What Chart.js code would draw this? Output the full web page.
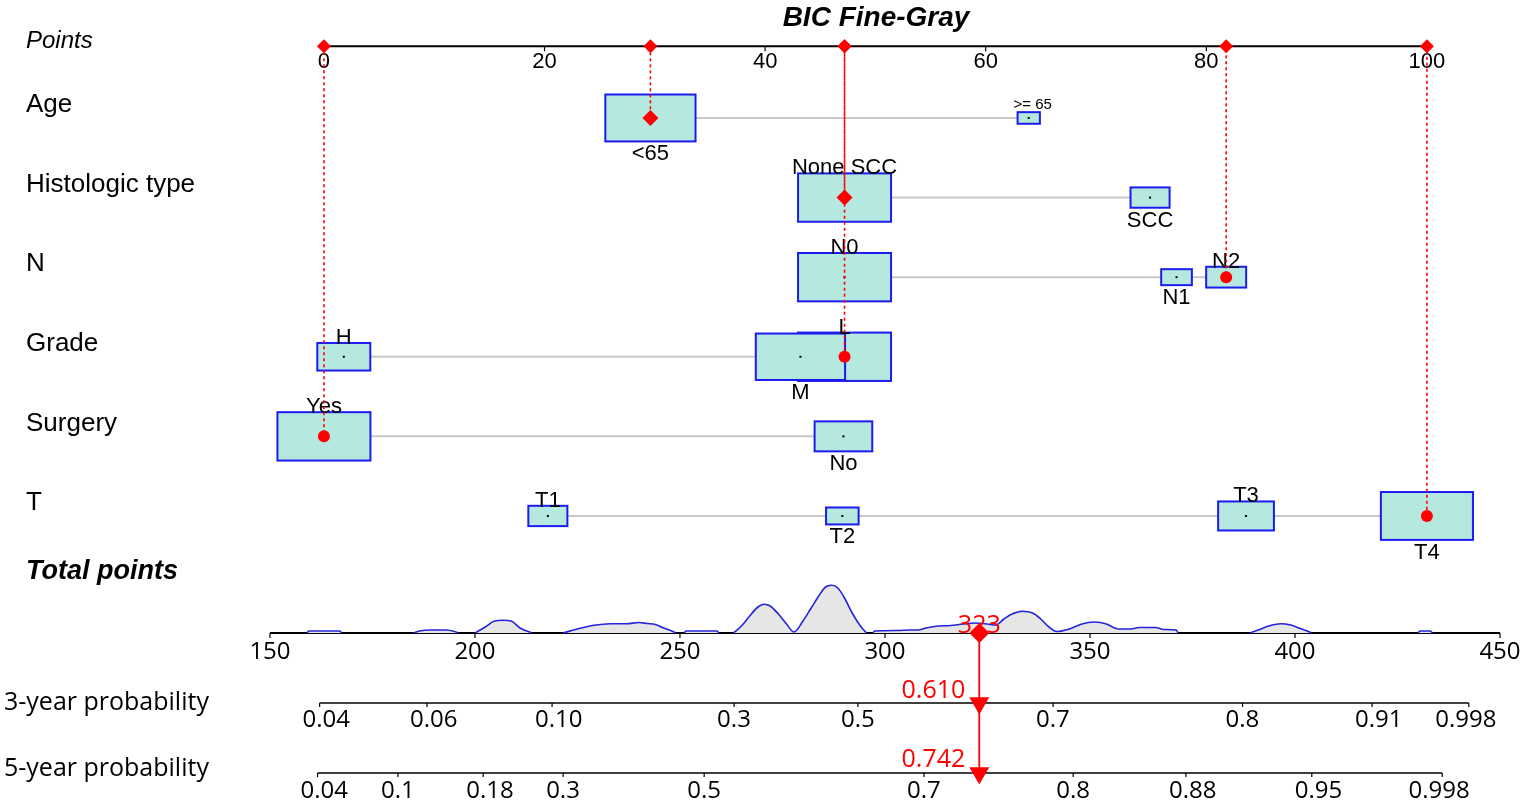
<!DOCTYPE html>
<html><head><meta charset="utf-8">
<script src="https://cdn.jsdelivr.net/npm/chart.js@4.4.1/dist/chart.umd.min.js"></script>
<style>html,body{margin:0;padding:0;background:#fff;overflow:hidden}#wrap{position:relative;width:1535px;height:810px}</style>
</head><body><div id="wrap"><canvas id="c"></canvas></div>
<script>
// ---------------- DATA ----------------
const chartTitle = "BIC Fine-Gray";
const variables = ["Age", "Histologic type", "N", "Grade", "Surgery", "T"];

const ageLevels = ["<65", ">= 65"];
const agePoints = [29.6, 63.9];
const ageBoxSize = [0.97, 0.24];

const histLevels = ["None SCC", "SCC"];
const histPoints = [47.2, 74.9];
const histBoxSize = [1.0, 0.42];

const nLevels = ["N0", "N1", "N2"];
const nPoints = [47.2, 77.3, 81.8];
const nBoxSize = [1.0, 0.33, 0.43];

const gradeLevels = ["H", "M", "L"];
const gradePoints = [1.8, 43.2, 47.2];
const gradeBoxSize = [0.57, 0.96, 1.0];

const surgeryLevels = ["Yes", "No"];
const surgeryPoints = [0, 47.1];
const surgeryBoxSize = [1.0, 0.62];

const tLevels = ["T1", "T2", "T3", "T4"];
const tPoints = [20.3, 47.0, 83.6, 100];
const tBoxSize = [0.42, 0.35, 0.60, 0.99];

const selectedLevels = ["<65", "None SCC", "N2", "L", "Yes", "T4"];

const pointsTicks = [0, 20, 40, 60, 80, 100];
const totalTicks = [150, 200, 250, 300, 350, 400, 450];

// density of total points (arbitrary units, null = gap)
const densityX = [159,159.5,167,167.5, null,
  185,186.5,189,193,195,196, null,
  200,202.5,204.8,206.8,208.8,211,213.9, null,
  221.5,225,229,233,237,240,242,244,246,248,249, null,
  251,251.5,259,259.5, null,
  263,265,267,269,270.5,272,274,276,277.8,280,282,284,285.5,287,288.5,290,292,294,295.5, null,
  297,297.5,303,306,308,310,313,316,319,322,325,327,329,331,333.5,336,338,340,342,345,348,351,354,356,357,360,362,366,368,371,371.5, null,
  389,391,394,396.5,399,401,403,404, null,
  430,430.5,433,433.5];
const densityY = [0,2,2,0, null,
  0,2,3,3,1.5,0, null,
  0,6,12,12.7,12,5,0, null,
  0,4,7.7,9.3,9.3,10.5,9.5,8.5,5,2,0, null,
  0,2,2,0, null,
  0,7,17,26,28.7,27,19,9,1,12,25,38,46,47.7,45,36,20,7,0, null,
  0,2,2.5,3,3,5,7,7.5,9,10,9,8,14,19,21.7,20,14,6,1.5,4,9,11,9,5,4,4,5.5,5.5,3.5,3,0, null,
  0,3,7.5,9.3,8,5,2,0, null,
  0,2,2,0];

const prob3Labels = ["0.04","0.06","0.10","0.3","0.5","0.7","0.8","0.91","0.998"];
const prob3AtTotal = [162.1,188.3,218.8,263.2,293.4,341.0,387.2,418.8,442.4];
const prob5Labels = ["0.04","0.1","0.18","0.3","0.5","0.7","0.8","0.88","0.95","0.998"];
const prob5AtTotal = [161.6,181.2,202.0,221.5,255.9,309.5,345.9,373.4,404.1,435.9];

const totalScore = 323;
const prob3Result = "0.610";
const prob5Result = "0.742";

// ---------------- LAYOUT / STYLE ----------------
const ROW = { points: 0.1, vars: [1, 2, 3, 4, 5, 6], total: 7.47, p3: 8.35, p5: 9.23 };
const labelSide = {
  "Age": ["below", "above"], "Histologic type": ["above", "below"], "N": ["above", "below", "above"],
  "Grade": ["above", "below", "above"], "Surgery": ["above", "below"], "T": ["above", "below", "above", "below"]
};
const smallLabels = { ">= 65": 15 };
const markerStyle = ["rectRot", "rectRot", "circle", "circle", "circle", "circle"];
const BOX = { maxW: 93, ratio: 0.52, fill: "#b5e8de", stroke: "#1c1cf0" };
const RED = "#ff0000";
const FONT = '"Liberation Sans", Arial, sans-serif';
const FONT2 = '"Open Sans", "Noto Sans", sans-serif';

const varDefs = [
  { name: variables[0], levels: ageLevels, points: agePoints, size: ageBoxSize },
  { name: variables[1], levels: histLevels, points: histPoints, size: histBoxSize },
  { name: variables[2], levels: nLevels, points: nPoints, size: nBoxSize },
  { name: variables[3], levels: gradeLevels, points: gradePoints, size: gradeBoxSize },
  { name: variables[4], levels: surgeryLevels, points: surgeryPoints, size: surgeryBoxSize },
  { name: variables[5], levels: tLevels, points: tPoints, size: tBoxSize }
];
const selPoints = varDefs.map((v, i) => v.points[v.levels.indexOf(selectedLevels[i])]);

// ---------------- DATASETS ----------------
const connectorData = [];
varDefs.forEach((v, i) => {
  connectorData.push({ x: Math.min(...v.points), y: ROW.vars[i] });
  connectorData.push({ x: Math.max(...v.points), y: ROW.vars[i] });
  connectorData.push({ x: null, y: null });
});

const datasets = [];
datasets.push({ role: "connectors", data: connectorData, xAxisID: "x", yAxisID: "y", showLine: true,
  borderColor: "#c8c8c8", borderWidth: 2, pointRadius: 0, spanGaps: false, order: 10 });

datasets.push({ data: densityX.map((x, i) => ({ x: x, y: densityY[i] })), xAxisID: "xt", yAxisID: "yd",
  showLine: true, borderColor: "#2424dc", borderWidth: 1.6, backgroundColor: "#e6e6e6", fill: "origin",
  pointRadius: 0, spanGaps: false, cubicInterpolationMode: "monotone", order: 5 });

selPoints.forEach((p, i) => {
  datasets.push({ data: [{ x: p, y: ROW.points }, { x: p, y: ROW.vars[i] }], xAxisID: "x", yAxisID: "y",
    showLine: true, borderColor: RED, borderWidth: 1.6, borderDash: [3, 3], borderDashOffset: i * 1.5,
    pointRadius: 0, order: 2 });
});

datasets.push({ data: [{ x: totalScore, y: ROW.total }, { x: totalScore, y: ROW.p5 }], xAxisID: "xt", yAxisID: "y",
  showLine: true, borderColor: RED, borderWidth: 1.8, pointRadius: 0, order: 2 });

datasets.push({ data: selPoints.map(p => ({ x: p, y: ROW.points })), xAxisID: "x", yAxisID: "y", showLine: false,
  pointStyle: "rectRot", pointRadius: 7, pointBackgroundColor: RED, pointBorderWidth: 0, order: 0 });

datasets.push({ data: selPoints.map((p, i) => ({ x: p, y: ROW.vars[i] })), xAxisID: "x", yAxisID: "y", showLine: false,
  pointStyle: markerStyle, pointRadius: markerStyle.map(s => s === "rectRot" ? 8 : 6),
  pointBackgroundColor: RED, pointBorderWidth: 0, order: 0 });

datasets.push({ data: [{ x: totalScore, y: ROW.total }], xAxisID: "xt", yAxisID: "y", showLine: false,
  pointStyle: "rectRot", pointRadius: 10, pointBackgroundColor: RED, pointBorderWidth: 0, order: 0 });

datasets.push({ data: [{ x: totalScore, y: ROW.p3 }, { x: totalScore, y: ROW.p5 }], xAxisID: "xt", yAxisID: "y", showLine: false,
  pointStyle: "triangle", pointRotation: 180, pointRadius: 11.5, pointBackgroundColor: RED, pointBorderWidth: 0, order: 0 });

// ---------------- DRAW HELPERS ----------------
function txt(ctx, s, x, y, font, align, base, color) {
  ctx.save(); ctx.font = font; ctx.textAlign = align || "center"; ctx.textBaseline = base || "middle";
  ctx.fillStyle = color || "#000"; ctx.fillText(s, x, y); ctx.restore();
}
function hline(ctx, x1, x2, y, w) {
  ctx.save(); ctx.strokeStyle = "#000"; ctx.lineWidth = w; ctx.beginPath(); ctx.moveTo(x1, y); ctx.lineTo(x2, y); ctx.stroke(); ctx.restore();
}
function vtick(ctx, x, y, len) {
  ctx.save(); ctx.strokeStyle = "#000"; ctx.lineWidth = 1.2; ctx.beginPath(); ctx.moveTo(x, y); ctx.lineTo(x, y + len); ctx.stroke(); ctx.restore();
}

const nomoPlugin = {
  id: "nomo",
  beforeDatasetsDraw(chart) {
    const ctx = chart.ctx, sx = chart.scales.x, st = chart.scales.xt, sy = chart.scales.y;
    // title
    txt(ctx, chartTitle, 876, 18, "bold italic 28px " + FONT);
    // row labels
    txt(ctx, "Points", 26, sy.getPixelForValue(ROW.points) - 5, "italic 24px " + FONT, "left");
    variables.forEach((v, i) => txt(ctx, v, 26, sy.getPixelForValue(ROW.vars[i]) - 13, "26px " + FONT, "left"));
    txt(ctx, "Total points", 26, sy.getPixelForValue(ROW.total) - 61, "bold italic 27px " + FONT, "left");
    txt(ctx, "3-year probability", 4, sy.getPixelForValue(ROW.p3) + 0, "25px " + FONT2, "left");
    txt(ctx, "5-year probability", 4, sy.getPixelForValue(ROW.p5) - 4, "25px " + FONT2, "left");
    // points axis
    const yp = sy.getPixelForValue(ROW.points);
    hline(ctx, sx.getPixelForValue(pointsTicks[0]), sx.getPixelForValue(pointsTicks[pointsTicks.length - 1]), yp, 2);
    pointsTicks.forEach(t => { const x = sx.getPixelForValue(t); vtick(ctx, x, yp, 5); txt(ctx, String(t), x, yp + 16, "22px " + FONT); });
    // total points axis
    const yt = sy.getPixelForValue(ROW.total);
    hline(ctx, st.getPixelForValue(totalTicks[0]), st.getPixelForValue(totalTicks[totalTicks.length - 1]), yt, 2);
    totalTicks.forEach(t => { const x = st.getPixelForValue(t); vtick(ctx, x, yt, 5); txt(ctx, String(t), x, yt + 19, "24px " + FONT2); });
    // probability axes
    [[prob3Labels, prob3AtTotal, ROW.p3, 17], [prob5Labels, prob5AtTotal, ROW.p5, 18]].forEach(([labs, pos, row, dy]) => {
      const y = sy.getPixelForValue(row);
      hline(ctx, st.getPixelForValue(pos[0]), st.getPixelForValue(pos[pos.length - 1]), y, 1.6);
      labs.forEach((l, k) => {
        const x = st.getPixelForValue(pos[k]);
        vtick(ctx, x, y, 4);
        if (k === labs.length - 1) txt(ctx, l, x - 3, y + dy, "24px " + FONT2, "center");
        else txt(ctx, l, x - 17, y + dy, "24px " + FONT2, "left");
      });
    });
  },
  afterDatasetDraw(chart, args) {
    if (chart.data.datasets[args.index].role !== "connectors") return;
    const ctx = chart.ctx, sx = chart.scales.x, sy = chart.scales.y;
    varDefs.forEach((v, i) => {
      const yc = sy.getPixelForValue(ROW.vars[i]);
      const idx = v.points.map((p, j) => j).sort((a, b) => v.size[b] - v.size[a]);
      idx.forEach(j => {
        const w = v.size[j] * BOX.maxW, h = w * BOX.ratio, xc = sx.getPixelForValue(v.points[j]);
        ctx.save();
        ctx.fillStyle = BOX.fill; ctx.fillRect(xc - w / 2, yc - h / 2, w, h);
        ctx.strokeStyle = BOX.stroke; ctx.lineWidth = 2; ctx.strokeRect(xc - w / 2, yc - h / 2, w, h);
        ctx.fillStyle = "#000"; ctx.fillRect(xc - 1, yc - 1, 2, 2);
        ctx.restore();
      });
      v.levels.forEach((l, j) => {
        const w = v.size[j] * BOX.maxW, h = w * BOX.ratio, xc = sx.getPixelForValue(v.points[j]);
        const fs = smallLabels[l];
        if (fs) { txt(ctx, l, xc + 4, yc - h / 2 - 3, fs + "px " + FONT, "center", "alphabetic"); return; }
        if (labelSide[v.name][j] === "above") txt(ctx, l, xc, yc - h / 2 + 1, "22px " + FONT, "center", "alphabetic");
        else txt(ctx, l, xc, yc + h / 2 + 2, "22px " + FONT, "center", "top");
      });
    });
  },
  afterDatasetsDraw(chart) {
    const ctx = chart.ctx, st = chart.scales.xt, sy = chart.scales.y;
    const x = st.getPixelForValue(totalScore);
    txt(ctx, String(totalScore), x, sy.getPixelForValue(ROW.total) - 7, "25px " + FONT2, "center", "middle", RED);
    txt(ctx, prob3Result, x - 14, sy.getPixelForValue(ROW.p3) - 12, "25px " + FONT2, "right", "middle", RED);
    txt(ctx, prob5Result, x - 14, sy.getPixelForValue(ROW.p5) - 13, "25px " + FONT2, "right", "middle", RED);
  }
};

new Chart(document.getElementById("c"), {
  type: "line",
  data: { datasets: datasets },
  options: {
    responsive: true, maintainAspectRatio: false, animation: false, events: [],
    layout: { padding: 0, autoPadding: false },
    parsing: true,
    plugins: { legend: { display: false }, tooltip: { enabled: false } },
    scales: {
      x: { type: "linear", display: false, bounds: "data", min: -29.37, max: 109.8 },
      xt: { type: "linear", axis: "x", display: false, bounds: "data", min: 84.15, max: 458.54 },
      y: { type: "linear", display: false, bounds: "data", min: -0.482, max: 9.694, reverse: true },
      yd: { type: "linear", axis: "y", display: false, bounds: "data", min: -177, max: 633 }
    }
  },
  plugins: [nomoPlugin]
});
</script>
</body></html>
